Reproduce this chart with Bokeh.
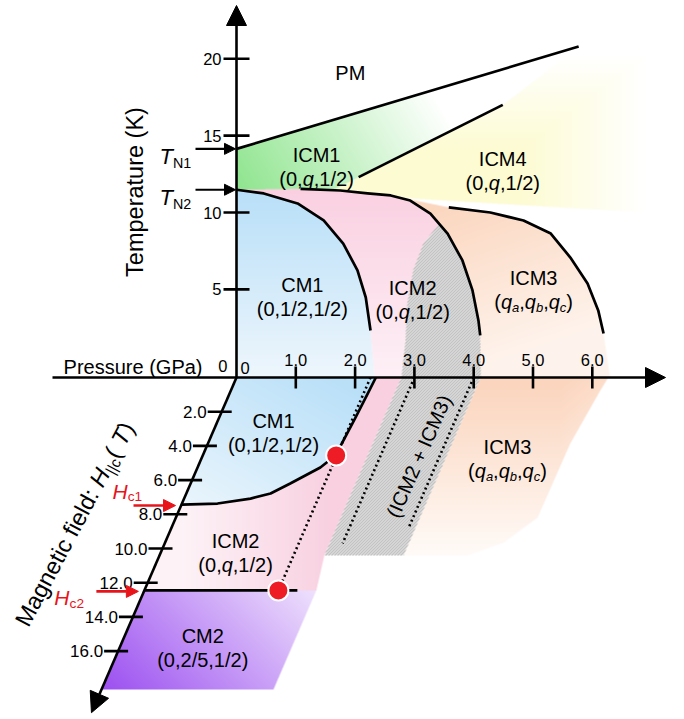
import numpy as np
from bokeh.plotting import figure
from bokeh.models import Range1d, Arrow, NormalHead
from bokeh.embed import file_html
from bokeh.resources import INLINE
from bokeh.core.properties import value

# ------------------------------------------------------------------ data
temp_ticks = [5, 10, 15, 20]
temp_tick_labels = ["5", "10", "15", "20"]
pres_ticks = [1.0, 2.0, 3.0, 4.0, 5.0, 6.0]
pres_tick_labels = ["1.0", "2.0", "3.0", "4.0", "5.0", "6.0"]
field_ticks = [2.0, 4.0, 6.0, 8.0, 10.0, 12.0, 14.0, 16.0]
field_tick_labels = ["2.0", "4.0", "6.0", "8.0", "10.0", "12.0", "14.0", "16.0"]

T_N1, T_N2 = 14.14, 11.48          # K
H_c1, H_c2 = 7.43, 12.45           # T

# P-T plane (GPa, K)
pm_P = [0.0, 5.77]
pm_T = [14.14, 20.8]
icm1_icm4_P = [2.06, 4.49]
icm1_icm4_T = [12.3, 17.0]
cm1_P = [0.00, 0.46, 1.03, 1.47, 1.80, 2.04, 2.18, 2.26]
cm1_T = [11.48, 11.24, 10.59, 9.48, 7.98, 6.23, 4.47, 2.32]
icm2_P = [1.08, 1.75, 2.21, 2.60, 2.93, 3.27, 3.56, 3.81, 3.98, 4.08, 4.11]
icm2_T = [11.54, 11.43, 11.24, 11.11, 10.78, 9.93, 8.63, 6.88, 4.93, 2.98, 2.00]
icm3_P = [3.58, 4.28, 4.84, 5.30, 5.63, 5.92, 6.10, 6.19]
icm3_T = [10.33, 10.00, 9.48, 8.63, 7.07, 5.38, 3.63, 2.13]
coex_edge_P = [3.42, 3.15, 2.98, 2.88, 2.85, 2.78]
coex_edge_T = [9.26, 7.98, 6.23, 4.08, 1.67, -0.73]
icm4_P = [1.65, 4.49, 5.77, 6.9, 6.9, 3.0]
icm4_T = [11.5, 17.0, 20.8, 21.0, 10.0, 10.9]

# P-H plane (GPa, tesla)
cm1_field_P = [2.35, 2.33, 2.30, 2.26, 2.24, 2.07, 1.68, 1.42, 1.12, 0.60, 0.00]
cm1_field_H = [0.00, 0.94, 2.34, 3.80, 4.56, 5.26, 6.20, 6.78, 7.08, 7.37, 7.43]
hc2_line_P = [0.0, 2.58]
crit_P = [2.25, 2.26]
crit_H = [4.56, 12.45]
crit_line_P = [2.26, 2.26]
crit_line_H = [0.0, 12.45]
coex_field_P = [3.0, 4.0]
coex_field_Hend = [9.7, 8.8]
coex_band_P = [2.78, 4.12]
coex_band_H = [0.0, 10.4]
icm2_field_Pend = 2.9
icm3_field_P = [4.12, 6.27, 6.23, 6.11, 6.10, 5.71, 5.20, 4.12]
icm3_field_H = [0.00, 0.00, 0.76, 3.86, 8.19, 9.65, 10.40, 10.40]
cm2_P = [0.0, 2.9]
cm2_H = [12.45, 18.25]

# phase labels
Q = [("(0,", 0, 0), ("q", 1, 0), (",1/2)", 0, 0)]
HALF = [("(0,1/2,1/2)", 0, 0)]
QABC = [("(", 0, 0), ("q", 1, 0), ("a", 1, 1), (",", 0, 0), ("q", 1, 0), ("b", 1, 1),
        (",", 0, 0), ("q", 1, 0), ("c", 1, 1), (")", 0, 0)]
TWOFIVE = [("(0,2/5,1/2)", 0, 0)]
pt_label_names = ["ICM1", "ICM4", "CM1", "ICM2", "ICM3"]
pt_label_vecs = [Q, Q, HALF, Q, QABC]
pt_label_P = [1.35, 4.49, 1.11, 2.97, 5.01]
pt_label_T = [13.45, 13.16, 4.99, 4.76, 5.41]
field_label_names = ["CM1", "ICM2", "ICM3", "CM2"]
field_label_vecs = [HALF, Q, QABC, TWOFIVE]
field_label_P = [0.975, 1.21, 5.11, 1.35]
field_label_H = [2.81, 9.82, 4.33, 15.38]

# ------------------------------------------------------------------ layout
W, HGT = 684, 719
OX, OY = 236.0, 365.7          # screen position of P=0, T=0
SXP, SYT = 59.3, 15.37         # px per GPa, px per K
FDX, FDY = -7.4, 17.1          # screen px per tesla (y down)
PLANE_Y = 377.0
T0 = (OY - PLANE_Y) / SYT      # level of the pressure axis / field plane
FONT = "Liberation Sans"
RED = "#e8141b"


def fld(P, Hf):
    P = np.asarray(P, float)
    Hf = np.asarray(Hf, float)
    return P + Hf * FDX / SXP, T0 - Hf * FDY / SYT


def dpx(dx):
    return dx / SXP


def dpy(dy):
    return dy / SYT


def s2d(sx, sy):
    return (sx - OX) / SXP, (OY - sy) / SYT


def d2s(x, y):
    return OX + np.asarray(x, float) * SXP, OY - np.asarray(y, float) * SYT


# ------------------------------------------------------------------ raster of shaded regions
SX, SY = np.meshgrid(np.arange(W) + 0.5, np.arange(HGT) + 0.5)
IX, IY = np.meshgrid(np.arange(W), np.arange(HGT))
canvas = np.full((HGT, W, 3), 255.0)


def inside(px_, py_, X, Y):
    res = np.zeros(X.shape, bool)
    n = len(px_)
    for i in range(n):
        j = i - 1
        xi, yi, xj, yj = px_[i], py_[i], px_[j], py_[j]
        if yi == yj:
            continue
        cond = (yi > Y) != (yj > Y)
        xint = (xj - xi) * (Y - yi) / (yj - yi) + xi
        res ^= cond & (X < xint)
    return res


def coverage(x, y):
    sx, sy = d2s(x, y)
    x0 = max(int(np.floor(sx.min())), 0)
    x1 = min(int(np.ceil(sx.max())) + 1, W)
    y0 = max(int(np.floor(sy.min())), 0)
    y1 = min(int(np.ceil(sy.max())) + 1, HGT)
    ss = 3
    xs = x0 + (np.arange((x1 - x0) * ss) + 0.5) / ss
    ys = y0 + (np.arange((y1 - y0) * ss) + 0.5) / ss
    X, Y = np.meshgrid(xs, ys)
    m = inside(sx, sy, X, Y).astype(float)
    cov = np.zeros((HGT, W))
    cov[y0:y1, x0:x1] = m.reshape(y1 - y0, ss, x1 - x0, ss).mean(axis=(1, 3))
    return cov


def paint(x, y, rgb):
    global canvas
    c = coverage(x, y)[..., None]
    canvas = canvas * (1 - c) + rgb * c


def grad(c0, c1, t):
    t = np.clip(t, 0, 1)[..., None]
    return np.array(c0, float) * (1 - t) + np.array(c1, float) * t


WHITE = (255, 255, 255)
hatch_rgb = np.where(((IX + IY) % 3 == 0)[..., None],
                     np.array([158.0, 158, 158]), np.array([232.0, 232, 232]))

# ICM4 (yellow)
paint(icm4_P, icm4_T,
      grad((253, 251, 210), WHITE, np.maximum((SX - 520) / 125, (150 - SY) / 95)))
# ICM1 (green)
paint([0.0, 0.0, pm_P[1], icm1_icm4_P[1], icm4_P[0]],
      [T_N2, T_N1, pm_T[1], icm1_icm4_T[1], icm4_T[0]],
      grad((142, 228, 142), WHITE, ((SX - 236) + 0.6 * (190 - SY)) / 255))
# CM1 (blue) in P-T
paint(cm1_P + [2.33, 0.0], cm1_T + [T0, T0],
      grad((184, 223, 248), (238, 246, 252), (SY - 190) / 187))
# ICM2 (pink) in P-T
paint([0.0] + icm2_P + [icm2_P[-1], 2.33] + cm1_P[::-1][:-1],
      [T_N2] + icm2_T + [T0, T0] + cm1_T[::-1][:-1],
      grad((250, 208, 225), (253, 240, 246), (SY - 190) / 187))
# ICM3 (peach) in P-T
paint(icm2_P[3:] + [icm2_P[-1], 6.3] + icm3_P[::-1],
      icm2_T[3:] + [T0, T0] + icm3_T[::-1],
      grad((251, 215, 192), (254, 243, 236), (SY - 205) / 172 + 0.3 * (SX - 450) / 150))
# ICM2+ICM3 coexistence in P-T
paint(coex_edge_P + [coex_band_P[1], icm2_P[-1]] + icm2_P[-2:5:-1],
      coex_edge_T + [T0, icm2_T[-1]] + icm2_T[-2:5:-1], hatch_rgb)

# field plane: CM1
fx, fy = fld([0.0] + cm1_field_P, [0.0] + cm1_field_H)
paint(fx, fy, grad((186, 224, 248), (234, 245, 252),
                   0.6 * (SY - 378) / 127 + 0.4 * (330 - SX) / 150))
# field plane: ICM2
fx, fy = fld([cm1_field_P[0], coex_band_P[0], coex_band_P[0], icm2_field_Pend, 0.0] + cm1_field_P[::-1][:-1],
             [0.0, 0.0, coex_band_H[1], H_c2, H_c2] + cm1_field_H[::-1][:-1])
paint(fx, fy, grad((248, 208, 224), (253, 243, 247), (330 - SX) / 150))
# field plane: coexistence band
fx, fy = fld([coex_band_P[0], coex_band_P[1], coex_band_P[1], coex_band_P[0]],
             [coex_band_H[0], coex_band_H[0], coex_band_H[1], coex_band_H[1]])
paint(fx, fy, hatch_rgb)
# field plane: ICM3
fx, fy = fld(icm3_field_P, icm3_field_H)
paint(fx, fy, grad((251, 213, 190), (255, 253, 251), (SY - 385) / 180 + 0.25 * np.clip((SX - 560) / 50, 0, 1)))
# field plane: CM2
fx, fy = fld([cm2_P[0], cm2_P[1], cm2_P[1], cm2_P[0]], [cm2_H[0], cm2_H[0], cm2_H[1], cm2_H[1]])
paint(fx, fy, grad((155, 78, 240), (242, 232, 253), ((SX - 100) + (690 - SY)) / 330))

rgba = np.dstack([canvas, np.full((HGT, W), 255.0)]).round().astype(np.uint8)
img = np.ascontiguousarray(rgba[::-1]).view(np.uint32).reshape(HGT, W)

# ------------------------------------------------------------------ figure
xr0, yr0 = s2d(0, HGT)
xr1, yr1 = s2d(W, 0)
p = figure(width=W, height=HGT, x_range=Range1d(xr0, xr1), y_range=Range1d(yr0, yr1),
           x_axis_type=None, y_axis_type=None, output_backend="svg",
           toolbar_location=None, min_border=0, outline_line_color=None,
           background_fill_color="white", border_fill_color="white")
p.grid.visible = False
p.image_rgba(image=[img], x=xr0, y=yr0, dw=xr1 - xr0, dh=yr1 - yr0)

LW = 2.7
# P-T boundaries
p.line(pm_P, pm_T, line_width=LW, color="black")
p.line(icm1_icm4_P, icm1_icm4_T, line_width=LW, color="black")
for xs, ys in [(cm1_P, cm1_T), (icm2_P, icm2_T), (icm3_P, icm3_T)]:
    p.line(xs, ys, line_width=LW, color="black", line_join="round")

# field plane lines
x, y = fld(cm1_field_P, cm1_field_H)
p.line(x, y, line_width=LW, color="black", line_join="round")
x, y = fld(hc2_line_P, [H_c2, H_c2])
p.line(x, y, line_width=LW, color="black")
x, y = fld(crit_line_P, crit_line_H)
p.line(x, y, line_width=2.6, color="black", line_dash="2 3")
for pp, he in zip(coex_field_P, coex_field_Hend):
    x, y = fld([pp, pp], [0.0, he])
    p.line(x, y, line_width=2.6, color="black", line_dash="2 3")
x, y = fld(crit_P, crit_H)
p.scatter(x, y, size=20, fill_color="#ee1c24", line_color="white", line_width=2)

# axes
AW = 2.6
p.add_layout(Arrow(end=NormalHead(size=20, fill_color="black", line_color="black"),
                   x_start=0.0, y_start=T0, x_end=0.0, y_end=s2d(0, 5)[1],
                   line_width=AW, line_color="black"))
p.add_layout(Arrow(end=NormalHead(size=20, fill_color="black", line_color="black"),
                   x_start=s2d(52, 0)[0], y_start=T0, x_end=s2d(665, 0)[0], y_end=T0,
                   line_width=AW, line_color="black"))
fx0, fy0 = fld(0.0, 0.0)
fx1, fy1 = fld(0.0, 19.6)
p.add_layout(Arrow(end=NormalHead(size=20, fill_color="black", line_color="black"),
                   x_start=float(fx0), y_start=float(fy0), x_end=float(fx1), y_end=float(fy1),
                   line_width=AW, line_color="black"))

# ticks
tt = np.array(temp_ticks, float)
p.segment(x0=np.full(tt.size, dpx(-13)), y0=tt, x1=np.full(tt.size, dpx(13)), y1=tt,
          line_width=AW, color="black")
pt_ = np.array(pres_ticks, float)
p.segment(x0=pt_, y0=np.full(pt_.size, T0 - dpy(11)), x1=pt_, y1=np.full(pt_.size, T0 + dpy(11)),
          line_width=AW, color="black")
hx, hy = fld(np.zeros(len(field_ticks)), field_ticks)
p.segment(x0=hx + dpx(-14), y0=hy, x1=hx + dpx(10), y1=hy, line_width=AW, color="black")

TICKFONT = "16.5px"
p.text(x=np.full(tt.size, dpx(-15)), y=tt, text=temp_tick_labels, text_align="right",
       text_baseline="middle", text_font=value(FONT), text_font_size=TICKFONT, text_color="black")
p.text(x=pt_, y=np.full(pt_.size, T0 + dpy(18)), text=pres_tick_labels, text_align="center",
       text_baseline="alphabetic", text_font=value(FONT), text_font_size=TICKFONT, text_color="black")
p.text(x=hx + dpx(-15), y=hy, text=field_tick_labels, text_align="right", text_baseline="middle",
       text_font=value(FONT), text_font_size="17px", text_color="black")
p.text(x=[dpx(-9)], y=[0.0], text=["0"], text_align="right", text_baseline="middle",
       text_font=value(FONT), text_font_size=TICKFONT, text_color="black")
p.text(x=[dpx(4)], y=[T0 + dpy(10)], text=["0"], text_align="left", text_baseline="alphabetic",
       text_font=value(FONT), text_font_size=TICKFONT, text_color="black")

# ------------------------------------------------------------------ rich text helper
ARIAL = {' ': 278, '(': 333, ')': 333, '+': 584, ',': 278, '.': 278, '/': 278, ':': 278, '|': 260,
         'C': 722, 'G': 778, 'H': 722, 'I': 278, 'K': 667, 'M': 833, 'N': 722, 'P': 667, 'T': 611,
         'a': 556, 'b': 556, 'c': 500, 'd': 556, 'e': 556, 'f': 278, 'g': 556, 'i': 222, 'l': 222,
         'm': 833, 'n': 556, 'p': 556, 'q': 556, 'r': 333, 's': 500, 't': 278, 'u': 556}


def tw(s, size):
    return sum(ARIAL.get(c, 556) for c in s) * size / 1000.0


def rich(x, y, pieces, size, color="black", align="center", angle=0.0, valign="middle"):
    SUB = 0.65
    widths = [tw(t, size * (SUB if sub else 1.0)) for t, it, sub in pieces]
    total = sum(widths)
    u = {"center": -total / 2, "left": 0.0, "right": -total}[align]
    v0 = -0.358 * size if valign == "middle" else 0.0
    ca, sa = np.cos(angle), np.sin(angle)
    for (t, it, sub), w in zip(pieces, widths):
        v = v0 + (-0.28 * size if sub else 0.0)
        dx = u * ca - v * sa
        dy = u * sa + v * ca
        p.text(x=[x + dpx(dx)], y=[y + dpy(dy)], text=[t], angle=angle, text_align="left",
               text_baseline="alphabetic", text_font=value(FONT),
               text_font_size=f"{size * (SUB if sub else 1.0):.1f}px",
               text_font_style="italic" if it else "normal", text_color=color)
        u += w


LABEL = 20
rich(1.92, 19.57, [("PM", 0, 0)], LABEL)
for name, vec, lp, lt in zip(pt_label_names, pt_label_vecs, pt_label_P, pt_label_T):
    rich(lp, lt + dpy(12), [(name, 0, 0)], LABEL)
    rich(lp, lt - dpy(12), vec, LABEL)
lx, ly = fld(field_label_P, field_label_H)
for name, vec, a, b in zip(field_label_names, field_label_vecs, lx, ly):
    rich(a, b + dpy(12), [(name, 0, 0)], LABEL)
    rich(a, b - dpy(12), vec, LABEL)
cx, cy = fld(3.52, 4.44)
rich(float(cx), float(cy), [("(ICM2 + ICM3)", 0, 0)], LABEL, angle=np.radians(66))

# axis titles
tx, ty = s2d(134, 191.5)
p.text(x=[tx], y=[ty], text=["Temperature (K)"], angle=np.pi / 2, text_align="center",
       text_baseline="middle", text_font=value(FONT), text_font_size="23.5px", text_color="black")
px_, py_ = s2d(202, 366)
p.text(x=[px_], y=[py_], text=["Pressure (GPa)"], text_align="right", text_baseline="alphabetic",
       text_font=value(FONT), text_font_size="20px", text_color="black")
mx, my = s2d(21, 624)
rich(mx, my, [("Magnetic field: ", 0, 0), ("H", 1, 0), ("||c", 0, 1), (" (", 0, 0), ("T", 1, 0), (")", 0, 0)],
     23.5, align="left", angle=np.radians(62), valign="baseline")

# T_N arrows and labels
for tn, sub in [(T_N1, "N1"), (T_N2, "N2")]:
    p.add_layout(Arrow(end=NormalHead(size=11, fill_color="black", line_color="black"),
                       x_start=dpx(-41), y_start=tn, x_end=dpx(-1), y_end=tn,
                       line_width=2.2, line_color="black"))
    rich(dpx(-77), tn, [("T", 1, 0), (sub, 0, 1)], 22, align="left")

# H_c arrows and labels
for hc, sub, lab_dx, lab_dy in [(H_c1, "c1", -69, 21), (H_c2, "c2", -90, 0)]:
    ax, ay = fld(0.0, hc)
    ax, ay = float(ax), float(ay)
    p.add_layout(Arrow(end=NormalHead(size=12, fill_color=RED, line_color=RED),
                       x_start=ax + dpx(-48), y_start=ay - dpy(1), x_end=ax + dpx(-6), y_end=ay - dpy(1),
                       line_width=2.6, line_color=RED))
    rich(ax + dpx(lab_dx), ay + dpy(lab_dy), [("H", 1, 0), (sub, 0, 1)], 21, color=RED, align="left")

open("out.html", "w").write(file_html(p, INLINE))
